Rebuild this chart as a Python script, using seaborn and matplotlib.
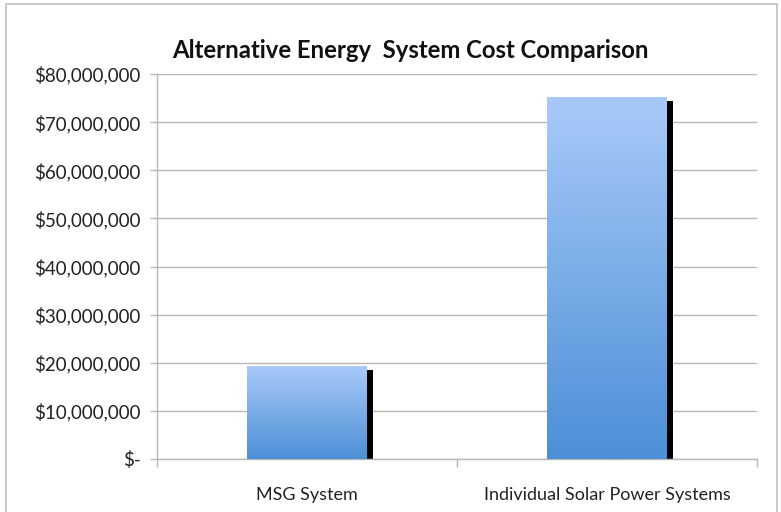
import numpy as np
import pandas as pd
import matplotlib
matplotlib.use("Agg")
import matplotlib.pyplot as plt
import matplotlib.patheffects as pe
from matplotlib.colors import LinearSegmentedColormap
from matplotlib.patches import Rectangle
from matplotlib.ticker import FuncFormatter, MultipleLocator
import seaborn as sns

# Data
systems = ["MSG System", "Individual Solar Power Systems"]
costs = [19_300_000, 75_200_000]
title = "Alternative Energy  System Cost Comparison"

sns.set_theme(style="white")
plt.rcParams["font.family"] = ["Lato", "DejaVu Sans"]

W, H = 781, 512
fig = plt.figure(figsize=(W / 100, H / 100), dpi=100)
ax = fig.add_axes([157 / W, 1 - 459 / H, 600 / W, 385 / H])

df = pd.DataFrame({"system": systems, "cost": costs})
sns.barplot(data=df, x="system", y="cost", ax=ax, width=0.4,
            color="#6fa5e6", saturation=1, zorder=3)

ax.set_ylim(0, 80_000_000)
ax.set_xlim(-0.5, 1.5)

# Vertical gradient fill and dark drop shadow on each bar
grad = LinearSegmentedColormap.from_list("bar", ["#4c8fd7", "#a9caf9"])
gimg = np.linspace(0, 1, 256).reshape(-1, 1)
for bar in ax.patches:
    x0, y0 = bar.get_x(), bar.get_y()
    w, h = bar.get_width(), bar.get_height()
    bar.set_facecolor("none")
    bar.set_edgecolor("none")
    shadow = Rectangle((x0, y0), w, h, facecolor="black", edgecolor="none",
                       zorder=2, transform=ax.transData)
    shadow.set_path_effects([pe.SimplePatchShadow(offset=(4, -3), shadow_rgbFace="black", alpha=1.0)])
    shadow.set_facecolor("none")
    ax.add_patch(shadow)
    im = ax.imshow(gimg, cmap=grad, origin="lower", aspect="auto",
                   extent=(x0, x0 + w, y0, y0 + h), zorder=3)
    im.set_clip_path(bar)

ax.set_xlim(-0.5, 1.5)
ax.set_ylim(0, 80_000_000)

# Axes styling
ax.yaxis.set_major_locator(MultipleLocator(10_000_000))
ax.yaxis.set_major_formatter(FuncFormatter(
    lambda v, p: "$-" if v == 0 else f"${v:,.0f}"))
ax.grid(axis="y", color="#b8b8b8", linewidth=1.0, zorder=0)
ax.set_axisbelow(True)
for s in ["top", "right"]:
    ax.spines[s].set_visible(False)
for s in ["left", "bottom"]:
    ax.spines[s].set_color("#b8b8b8")
    ax.spines[s].set_linewidth(1.0)

ax.tick_params(axis="y", which="major", left=True, length=5, width=1.0,
               color="#b8b8b8", labelsize=13.5, labelcolor="#222222", pad=7)
ax.set_xticks([0, 1])
ax.set_xticklabels(systems)
ax.set_xticks([-0.5, 0.5, 1.5], minor=True)
ax.tick_params(axis="x", which="major", bottom=False, length=0,
               labelsize=13, labelcolor="#222222", pad=20)
ax.tick_params(axis="x", which="minor", bottom=True, length=6, width=1.0,
               color="#b8b8b8")
ax.set_xlabel("")
ax.set_ylabel("")

fig.text(410 / W, 1 - 50 / H, title, ha="center", va="center",
         fontsize=17.2, fontweight="bold", color="#111111")

# Outer chart frame
fig.patches.append(Rectangle((6 / W, -0.01), 771 / W, 1 - 4 / H + 0.01,
                             transform=fig.transFigure, fill=False,
                             edgecolor="#c0c0c0", linewidth=1.2))

fig.savefig("out.png", dpi=100)
